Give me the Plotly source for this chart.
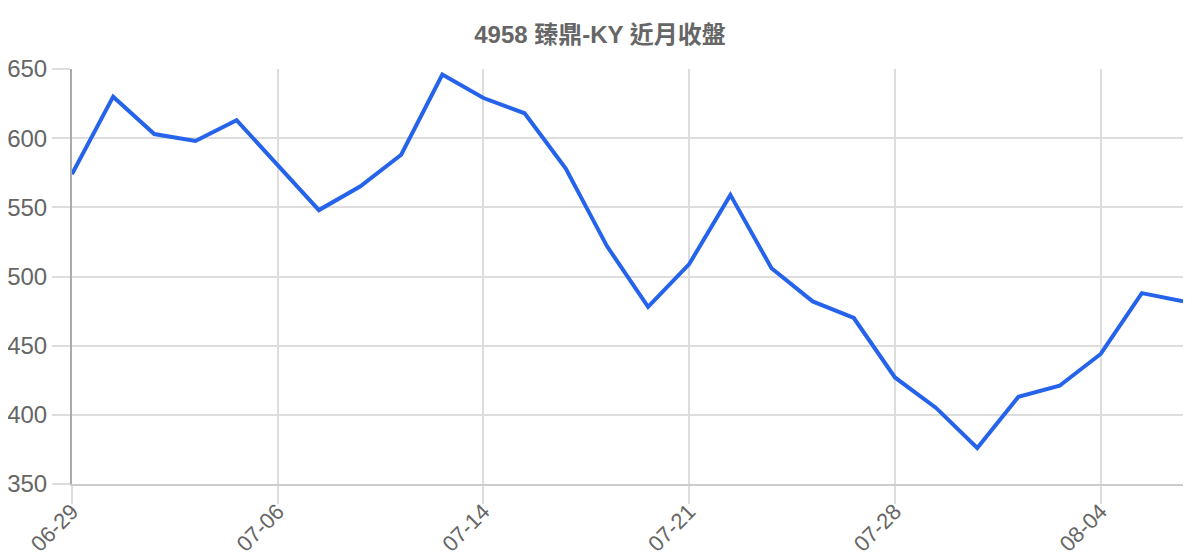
import plotly.graph_objects as go

TITLE = "4958 臻鼎-KY 近月收盤"

dates = ['06-29', '06-30', '07-01', '07-02', '07-03',
         '07-06', '07-07', '07-08', '07-09', '07-13',
         '07-14', '07-15', '07-16', '07-17', '07-20',
         '07-21', '07-22', '07-23', '07-24', '07-27',
         '07-28', '07-29', '07-30', '07-31', '08-03',
         '08-04', '08-05', '08-06']

close = [574, 630, 603, 598, 613,
         580, 548, 565, 588, 646,
         629, 618, 578, 522, 478,
         509, 559, 506, 482, 470,
         427, 405, 376, 413, 421,
         444, 488, 482]

tick_labels = ['06-29', '07-06', '07-14', '07-21', '07-28', '08-04']

GRAY = '#666666'
FONT = 'Liberation Sans, Arial, Noto Sans CJK TC, sans-serif'

fig = go.Figure()
fig.add_trace(
    go.Scatter(
        x=dates,
        y=close,
        mode='lines',
        line=dict(color='#2563eb', width=4),
        hoverinfo='x+y',
    )
)

# page body has an 8px margin, so the figure sits 8px in from the window edge
fig.update_layout(
    width=1184,
    height=560,
    paper_bgcolor='white',
    plot_bgcolor='white',
    showlegend=False,
    margin=dict(l=64, r=9, t=61, b=84),
    font=dict(family=FONT, color=GRAY),
    title=dict(
        text='<b>' + TITLE + '</b>',
        x=0.5,
        xanchor='center',
        y=0.952,
        yanchor='middle',
        font=dict(size=24, color=GRAY, family=FONT),
    ),
)

fig.update_xaxes(
    type='category',
    range=[0, len(dates) - 1],
    tickmode='array',
    tickvals=tick_labels,
    ticktext=tick_labels,
    tickangle=-45,
    tickfont=dict(size=22, color=GRAY),
    ticklabelstandoff=-14,
    showgrid=True,
    gridcolor='#dddddd',
    gridwidth=1.5,
    showline=True,
    linecolor='#cccccc',
    linewidth=2,
    ticks='outside',
    ticklen=18,
    tickwidth=1.5,
    tickcolor='#dddddd',
    zeroline=False,
    automargin=False,
)

fig.update_yaxes(
    range=[350, 650],
    dtick=50,
    tickfont=dict(size=24, color=GRAY),
    showgrid=True,
    gridcolor='#dddddd',
    gridwidth=1.5,
    showline=True,
    linecolor='#aaaaaa',
    linewidth=2,
    ticks='outside',
    ticklen=18,
    tickwidth=1.5,
    tickcolor='#dddddd',
    zeroline=False,
    automargin=False,
)

fig.write_html("out.html")
